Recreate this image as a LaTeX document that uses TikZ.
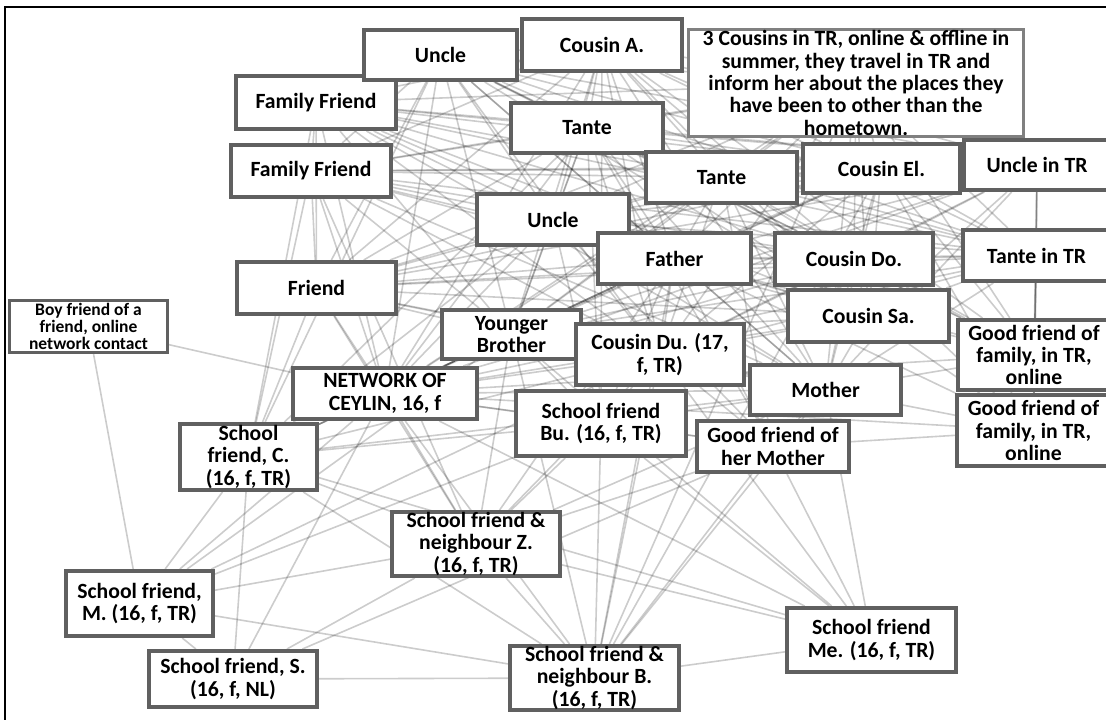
\documentclass[tikz,border=0pt]{standalone}
\usepackage{fontspec}
\setmainfont{Carlito}
\usetikzlibrary{backgrounds}
\definecolor{boxc}{RGB}{96,96,96}
\definecolor{thinc}{RGB}{128,128,128}
\tikzset{
  box/.style={draw=boxc, line width=4pt, fill=white, inner sep=0pt, align=center, text=black,
    font=\fontsize{21.7pt}{22.4pt}\selectfont\bfseries},
  thinbox/.style={box, draw=thinc, line width=2.5pt},
  smallbox/.style={box, line width=3pt, font=\fontsize{17.5pt}{16.7pt}\selectfont\bfseries},
  edge/.style={draw=black, opacity=0.2, line width=1.6pt},
  frame/.style={draw=black, line width=1.5pt}
}
\newcommand{\bx}[6][box]{\node[#1, minimum width=#4pt, minimum height=#5pt] (#2) at #3 {#6};}
\begin{document}
\begin{tikzpicture}[x=1pt,y=-1pt]
\useasboundingbox (0,0) rectangle (1106,720);
\draw[frame] (1106,7) -- (5,7) -- (5,720);
% nodes
\bx{f1}{(316,102.5)}{160}{53}{Family Friend}
\bx{uA}{(440.5,55)}{153}{50}{Uncle}
\bx{cA}{(602,45)}{160}{52}{Cousin A.}
\bx[thinbox]{c3}{(856,83)}{335}{107}{3 Cousins in TR, online \& offline in\\summer, they travel in TR and\\inform her about the places they\\have been to other than the\\hometown.}
\bx{f2}{(311,171)}{160}{52}{Family Friend}
\bx{t1}{(587,128)}{152}{50}{Tante}
\bx{t2}{(721.5,177.5)}{151}{51}{Tante}
\bx{cE}{(881.5,168.5)}{157}{49}{Cousin El.}
\bx{uT}{(1037,165)}{146}{50}{Uncle in TR}
\bx{u2}{(553,219.5)}{152}{51}{Uncle}
\bx{fa}{(674.5,258.5)}{153}{51}{Father}
\bx{cDo}{(854,259)}{158}{52}{Cousin Do.}
\bx{tT}{(1036.5,255.5)}{147}{51}{Tante in TR}
\bx{fr}{(316.5,288)}{159}{52}{Friend}
\bx{cSa}{(868.5,316)}{161}{52}{Cousin Sa.}
\bx[smallbox]{bf}{(88.5,326.5)}{158}{52}{Boy friend of a\\friend, online\\network contact}
\bx{yb}{(511.5,334.5)}{139}{49}{Younger\\Brother}
\bx{cDu}{(660,354.5)}{168}{61}{Cousin Du. (17,\\f, TR)}
\bx{g1}{(1034,355)}{152}{70}{Good friend of\\family, in TR,\\online}
\bx{ego}{(385,393.5)}{184}{51}{NETWORK OF\\CEYLIN, 16, f}
\bx{mo}{(825.5,390)}{151}{50}{Mother}
\bx{g2}{(1033.5,430.5)}{153}{71}{Good friend of\\family, in TR,\\online}
\bx{sC}{(248.5,457)}{137}{66}{School\\friend, C.\\(16, f, TR)}
\bx{sBu}{(601,423.5)}{170}{65}{School friend\\Bu. (16, f, TR)}
\bx{gm}{(773,446.5)}{152}{51}{Good friend of\\her Mother}
\bx{sZ}{(476,544)}{168}{64}{School friend \&\\neighbour Z.\\(16, f, TR)}
\bx{sM}{(139.5,603.5)}{147}{65}{School friend,\\M. (16, f, TR)}
\bx{sMe}{(871.5,640)}{169}{64}{School friend\\Me. (16, f, TR)}
\bx{sS}{(233,679)}{168}{56}{School friend, S.\\(16, f, NL)}
\bx{sB}{(594.5,678)}{169}{64}{School friend \&\\neighbour B.\\(16, f, TR)}
% connectors
\begin{scope}[on background layer]
\foreach \q in {uA,cA,c3,f1,f2,t1,t2,cE,uT,u2,fa,cDo,tT,fr,cSa,bf,yb,cDu,g1,mo,g2,sC,sBu,gm,sZ,sM,sMe,sS,sB}
  \draw[edge] (ego) -- (\q);
\foreach \a [count=\i] in {uA,cA,c3,f1,f2,t1,t2,cE,uT,u2,fa,cDo,tT,fr,cSa,yb,cDu,mo}{
  \foreach \b [count=\j] in {uA,cA,c3,f1,f2,t1,t2,cE,uT,u2,fa,cDo,tT,fr,cSa,yb,cDu,mo}{
    \ifnum\j>\i \draw[edge] (\a) -- (\b);\fi
  }
}
\foreach \p/\q in {
  g1/mo, g1/fa, g1/tT, g1/uT, g1/cE, g1/cDo, g1/cSa, g1/t2, g1/c3, g1/cA, g1/uA, g1/t1, g1/g2,
  g2/mo, g2/fa, g2/tT, g2/uT, g2/cDo, g2/cSa, g2/gm, g2/cE,
  gm/mo, gm/fa, gm/sMe, gm/sB, gm/sZ, gm/sS, gm/sBu, gm/cDu, gm/t1, gm/t2, gm/u2,
  sBu/sC, sBu/sM, sBu/sZ, sBu/sB, sBu/sMe, sBu/cDu, sBu/yb, sBu/mo, sBu/fa, sBu/u2, sBu/t1, sBu/cA,
  sC/sM, sC/sS, sC/sZ, sC/sB, sC/sMe, sC/fr, sC/f1, sC/f2, sC/yb, sC/fa, sC/cDu, sC/u2, sC/t1, sC/mo, sC/uA,
  sZ/sM, sZ/sS, sZ/sB, sZ/sMe, sZ/yb, sZ/fa, sZ/cDu, sZ/mo, sZ/f2, sZ/fr,
  sB/sS, sB/sM, sB/sMe, sB/cDu, sB/fa, sB/mo, sB/cE, sB/c3, sB/yb,
  sMe/mo, sMe/cDu, sMe/yb,
  sM/bf, sM/sS, sM/yb, sM/cDu}
  \draw[edge] (\p) -- (\q);
\end{scope}
\end{tikzpicture}
\end{document}
